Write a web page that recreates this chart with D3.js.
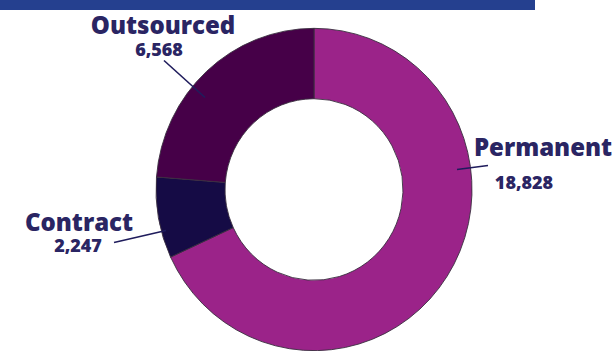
<!DOCTYPE html>
<html>
<head>
<meta charset="utf-8">
<script src="https://cdn.jsdelivr.net/npm/d3@7"></script>
<style>
  html, body { margin: 0; padding: 0; background: #fff; }
  svg { display: block; }
  text { font-family: "Open Sans", "Noto Sans", sans-serif; font-weight: 800; fill: #2a2563; }
</style>
</head>
<body>
<svg id="chart" width="613" height="351"></svg>
<script>
const categories = ["Permanent", "Contract", "Outsourced"];
const values = [18828, 2247, 6568];
const valueLabels = ["18,828", "2,247", "6,568"];
const colors = ["#9b2389", "#150b45", "#460048"];

// label layout (annotation positions relative to chart centre)
const labelLayout = [
  { name: [229, -34], value: [210, -0.5], lineFrom: [143, -20], lineTo: [174, -24], anchor: "middle" },
  { name: [-235, 41], value: [-236, 62.5], lineFrom: [-200, 53], lineTo: [-148, 41], anchor: "middle" },
  { name: [-151, -156], value: [-155, -133.5], lineFrom: [-150, -129], lineTo: [-109, -92], anchor: "middle" }
];

const svg = d3.select("#chart");
const cx = 314, cy = 189.5;

svg.append("rect").attr("x", 0).attr("y", 0).attr("width", 535).attr("height", 10).attr("fill", "#25408f");

const g = svg.append("g").attr("transform", `translate(${cx},${cy})`);
const donut = g.append("g").attr("transform", "scale(1,1.02)");

const pie = d3.pie().sort(null).value(d => d)(values);
const arc = d3.arc().innerRadius(89).outerRadius(158);

donut.selectAll("path").data(pie).join("path")
  .attr("d", arc)
  .attr("fill", (d, i) => colors[i])
  .attr("stroke", "#3a3040")
  .attr("stroke-width", 0.9);

labelLayout.forEach((L, i) => {
  g.append("line")
    .attr("x1", L.lineFrom[0]).attr("y1", L.lineFrom[1])
    .attr("x2", L.lineTo[0]).attr("y2", L.lineTo[1])
    .attr("stroke", "#1f1c5c").attr("stroke-width", 1.6);
  g.append("text")
    .attr("x", L.name[0]).attr("y", L.name[1])
    .attr("text-anchor", L.anchor)
    .attr("font-size", 24)
    .text(categories[i]);
  g.append("text")
    .attr("x", L.value[0]).attr("y", L.value[1])
    .attr("text-anchor", L.anchor)
    .attr("font-size", 18)
    .text(valueLabels[i]);
});
</script>
</body>
</html>
